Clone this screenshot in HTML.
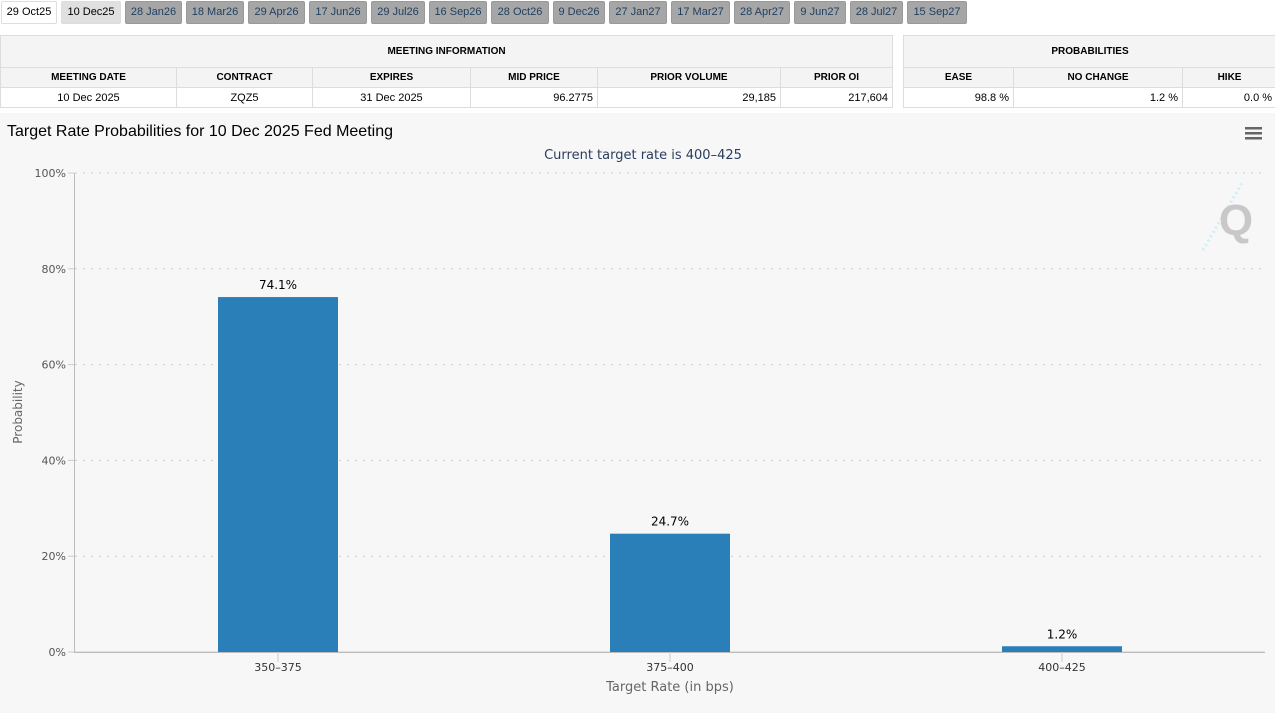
<!DOCTYPE html>
<html><head><meta charset="utf-8"><style>
body{margin:0;width:1275px;height:713px;background:#fff;font-family:"Liberation Sans",Arial,sans-serif;position:relative;overflow:hidden}
.tab{position:absolute;top:1px;height:23px;line-height:21px;font-size:11px;text-align:center;background:#a6a6a6;color:#1f3f5f;border-radius:2px;box-sizing:border-box;border:1px solid #999}
.tab.a{background:#fff;color:#000;border:1px solid #ddd}
.tab.s{background:#e0e0e0;color:#000;border:1px solid #ddd}
table{position:absolute;border-collapse:collapse;font-size:11px;table-layout:fixed}
td{border:1px solid #ddd;height:19px;padding:0 4px;text-align:center;color:#000}
td.h{font-weight:bold;background:#f4f4f4;font-size:10px}
td.t{height:31px;font-weight:bold;background:#f4f4f4;font-size:10px}
td.r{text-align:right}
</style></head><body>
<div id="tabs"></div>
<table style="left:0;top:35px;width:892px">
<colgroup><col style="width:176px"><col style="width:136px"><col style="width:158px"><col style="width:127px"><col style="width:183px"><col style="width:112px"></colgroup>
<tr><td class="t" colspan="6">MEETING INFORMATION</td></tr>
<tr><td class="h">MEETING DATE</td><td class="h">CONTRACT</td><td class="h">EXPIRES</td><td class="h">MID PRICE</td><td class="h">PRIOR VOLUME</td><td class="h">PRIOR OI</td></tr>
<tr><td>10 Dec 2025</td><td>ZQZ5</td><td>31 Dec 2025</td><td class="r">96.2775</td><td class="r">29,185</td><td class="r">217,604</td></tr>
</table>
<table style="left:903px;top:35px;width:373px">
<colgroup><col style="width:110px"><col style="width:169px"><col style="width:94px"></colgroup>
<tr><td class="t" colspan="3">PROBABILITIES</td></tr>
<tr><td class="h">EASE</td><td class="h">NO CHANGE</td><td class="h">HIKE</td></tr>
<tr><td class="r">98.8 %</td><td class="r">1.2 %</td><td class="r">0.0 %</td></tr>
</table>
<svg id="chart" style="position:absolute;left:0;top:113px" width="1275" height="600">
<rect width="1275" height="600" fill="#f7f7f7"/>
<text x="7" y="23" font-size="16" fill="#000" font-family="Liberation Sans,sans-serif">Target Rate Probabilities for 10 Dec 2025 Fed Meeting</text>
<text x="643" y="46" font-size="13" fill="#2a3d5f" text-anchor="middle" font-family="DejaVu Sans,sans-serif">Current target rate is 400–425</text>
<g><rect x="1245" y="14" width="17" height="2.5" fill="#666"/><rect x="1245" y="19" width="17" height="2.5" fill="#666"/><rect x="1245" y="24" width="17" height="2.5" fill="#666"/></g>
<g><line x1="1203" y1="137" x2="1242" y2="70" stroke="#cfeefa" stroke-width="3" stroke-dasharray="2 3"/><text x="1236" y="122" font-size="44" font-weight="bold" fill="#c8c8c8" text-anchor="middle" font-family="Liberation Sans,sans-serif">Q</text></g>
<g id="plot"></g>
<text x="22" y="299" font-size="12" fill="#666" text-anchor="middle" transform="rotate(-90 22 299)" font-family="DejaVu Sans,sans-serif">Probability</text>
<text x="670" y="578" font-size="13" fill="#666" text-anchor="middle" font-family="DejaVu Sans,sans-serif">Target Rate (in bps)</text>
</svg>
<script>
const tabLabels=["29 Oct25","10 Dec25","28 Jan26","18 Mar26","29 Apr26","17 Jun26","29 Jul26","16 Sep26","28 Oct26","9 Dec26","27 Jan27","17 Mar27","28 Apr27","9 Jun27","28 Jul27","15 Sep27"];
const categories=["350-375","375-400","400-425"];
const values=[74.1,24.7,1.2];
const yTicks=[0,20,40,60,80,100];

const tabX=[1,61,125,186,248,309,371,429,491,553,609,671,734,794,850,907,971];
const tabsEl=document.getElementById('tabs');
tabLabels.forEach((t,i)=>{const d=document.createElement('div');d.className='tab'+(i==0?' a':i==1?' s':'');d.style.left=tabX[i]+'px';d.style.width=(tabX[i+1]-tabX[i]-4)+'px';d.textContent=t;


tabsEl.appendChild(d);});

const NS='http://www.w3.org/2000/svg';
const plotG=document.getElementById('plot');
const plotTop=60,plotBottom=539,plotLeft=82,catW=392;
const yS=v=>plotBottom-(v/100)*(plotBottom-plotTop);
const xC=i=>plotLeft+catW*(i+0.5);
function el(tag,a,txt){const e=document.createElementNS(NS,tag);for(const k in a)e.setAttribute(k,a[k]);if(txt!=null)e.textContent=txt;plotG.appendChild(e);return e;}
yTicks.forEach(v=>{const y=yS(v);
const l=el('line',{x1:75,x2:1265,y1:y,y2:y,stroke:'#ccc','stroke-dasharray':v?'2 6':'none'});


el('line',{x1:68,x2:74,y1:y,y2:y,stroke:'#ccc'});
const t=el('text',{x:66,y:y+4,'font-size':11,fill:'#555','text-anchor':'end','font-family':'DejaVu Sans,sans-serif'},v+'%');

});
el('line',{x1:74.5,x2:74.5,y1:plotTop,y2:plotBottom,stroke:'#bbb'});
el('line',{x1:74,x2:1265,y1:plotBottom+0.5,y2:plotBottom+0.5,stroke:'#bbb'});
categories.forEach((c,i)=>{const x=xC(i),v=values[i];
const b=el('rect',{x:x-60,y:yS(v),width:120,height:plotBottom-yS(v),fill:'#2a7fb8'});


const lab=el('text',{x:x,y:yS(v)-8,'font-size':12,fill:'#000','text-anchor':'middle','font-family':'DejaVu Sans,sans-serif'},v.toFixed(1)+'%');


el('line',{x1:x,x2:x,y1:plotBottom,y2:plotBottom+10,stroke:'#ccc'});
const t=el('text',{x:x,y:plotBottom+19,'font-size':11,fill:'#333','text-anchor':'middle','font-family':'DejaVu Sans,sans-serif'},c.replace('-','–'));

});
</script>
</body></html>
